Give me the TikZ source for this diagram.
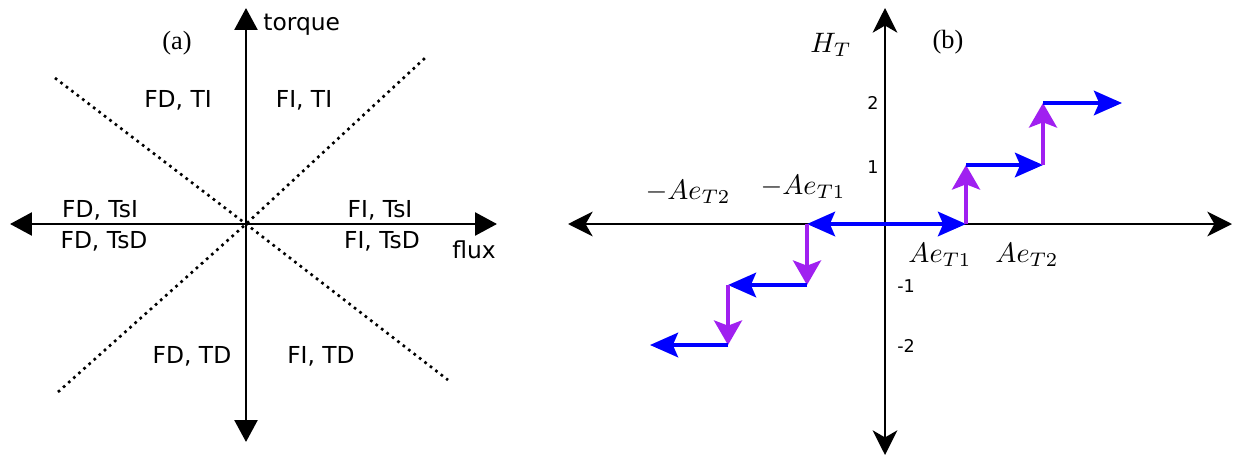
\documentclass[tikz,border=0pt]{standalone}
\usepackage{amsmath}
\usepackage{fontspec}
\setmainfont{Liberation Serif}
\newfontfamily\regionfont{DejaVu Sans}
\usetikzlibrary{arrows.meta}

\definecolor{stepblue}{RGB}{0,0,255}
\definecolor{steppurple}{RGB}{160,32,240}

\tikzset{
  axisa/.style={line width=1.7pt,{Triangle[length=12.5pt,width=13pt]}-{Triangle[length=12.5pt,width=13pt]}},
  axisb/.style={line width=1.6pt,{Stealth[length=14pt,width=14pt,inset=4pt]}-{Stealth[length=14pt,width=14pt,inset=4pt]}},
  sector/.style={line width=1.5pt,dash pattern=on 1.5pt off 2.4pt},
  region/.style={font=\regionfont\fontsize{13.3}{15}\selectfont,anchor=base,inner sep=0pt},
  tick/.style={font=\regionfont\fontsize{10}{12}\selectfont,inner sep=0pt},
  level/.style={scale=1.6,inner sep=0pt},
  panel/.style={font=\fontsize{15}{17}\selectfont,inner sep=0pt},
  hstep/.style={stepblue,line width=1.8pt,-{Stealth[length=16pt,width=14pt,inset=3pt]}},
  vstep/.style={steppurple,line width=2pt,-{Stealth[length=14pt,width=16pt,inset=3pt]}}
}

\begin{document}
\begin{tikzpicture}[x=0.02cm,y=-0.02cm]
\useasboundingbox (0,0) rectangle (1238,457);

% (a) operating regions
\coordinate (oa) at (246,224);
\coordinate (aleft) at (10,224);
\coordinate (aright) at (497,224);
\coordinate (atop) at (246,8);
\coordinate (abot) at (246,442);
\draw [sector] (55,78) -- (oa) -- (448,380);
\draw [sector] (58,392) -- (oa) -- (425,58);
\draw [axisa] (aleft) -- (aright);
\draw [axisa] (abot) -- (atop);

\node [panel] (laba) at (177,43) {(a)};
\node [region,anchor=base west] (torque) at (263,30) {torque};
\node [region,anchor=base west] (flux) at (452,258) {flux};
\node [region] (fdti) at (178,107) {FD, TI};
\node [region] (fiti) at (304,107) {FI, TI};
\node [region] (fdtsi) at (100,217) {FD, TsI};
\node [region] (fitsi) at (380,217) {FI, TsI};
\node [region] (fdtsd) at (104,248) {FD, TsD};
\node [region] (fitsd) at (382,248) {FI, TsD};
\node [region] (fdtd) at (192,363) {FD, TD};
\node [region] (fitd) at (321,363) {FI, TD};

% (b) hysteresis steps
\coordinate (ob) at (885,224);
\coordinate (bleft) at (568,224);
\coordinate (bright) at (1232,224);
\coordinate (btop) at (885,8);
\coordinate (bbot) at (885,455);
\draw [axisb] (bleft) -- (bright);
\draw [axisb] (bbot) -- (btop);

\coordinate (p1) at (966,224);
\coordinate (p1u) at (966,165);
\coordinate (p2) at (1043,165);
\coordinate (p2u) at (1043,103);
\coordinate (p3) at (1122,103);
\coordinate (m1) at (807,224);
\coordinate (m1d) at (807,285);
\coordinate (m2) at (728,285);
\coordinate (m2d) at (728,345);
\coordinate (m3) at (650,345);

\draw [hstep] (ob) -- (p1);
\draw [vstep] (p1) -- (p1u);
\draw [hstep] (p1u) -- (p2);
\draw [vstep] (p2) -- (p2u);
\draw [hstep] (p2u) -- (p3);
\draw [hstep] (ob) -- (m1);
\draw [vstep] (m1) -- (m1d);
\draw [hstep] (m1d) -- (m2);
\draw [vstep] (m2) -- (m2d);
\draw [hstep] (m2d) -- (m3);

\node [panel] (labb) at (948,42) {(b)};
\node [level] (ht) at (831,45) {$H_T$};
\node [tick] (t2) at (873,103) {2};
\node [tick] (t1) at (873,167) {1};
\node [tick] (tm1) at (906,286) {-1};
\node [tick] (tm2) at (906,346) {-2};
\node [level] (lm2) at (688,192) {$-Ae_{T2}$};
\node [level] (lm1) at (803,187) {$-Ae_{T1}$};
\node [level] (lp1) at (940,255) {$Ae_{T1}$};
\node [level] (lp2) at (1027,255) {$Ae_{T2}$};

\end{tikzpicture}
\end{document}
